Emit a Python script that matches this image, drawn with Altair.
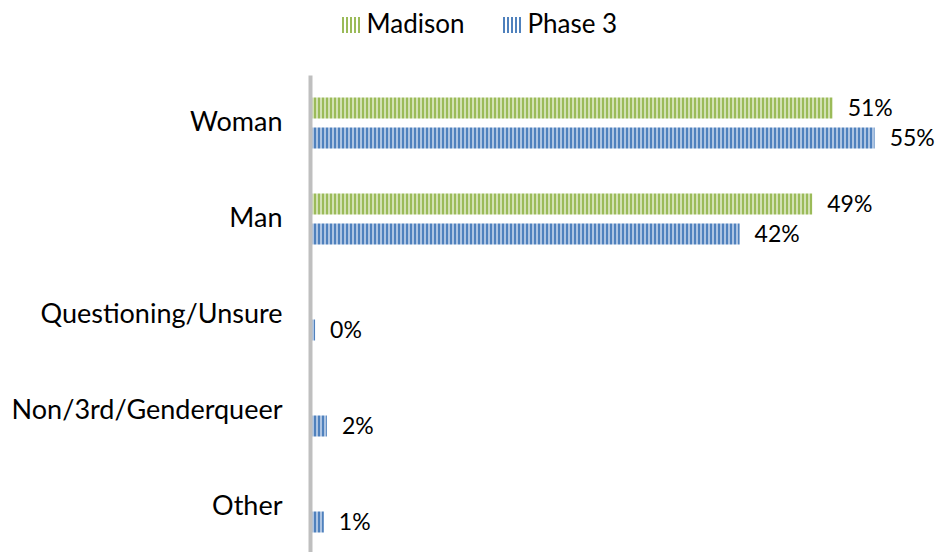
import altair as alt
import pandas as pd

# ---- data ----
categories = ["Woman", "Man", "Questioning/Unsure", "Non/3rd/Genderqueer", "Other"]
series = ["Madison", "Phase 3"]
madison = [51.1, 49.1, None, None, None]
phase3 = [55.2, 42.0, 0.5, 1.65, 1.35]
madison_labels = ["51%", "49%", "", "", ""]
phase3_labels = ["55%", "42%", "0%", "2%", "1%"]

rows = []
for i, c in enumerate(categories):
    for s, vals, labs in (("Madison", madison, madison_labels), ("Phase 3", phase3, phase3_labels)):
        if vals[i] is not None:
            rows.append(dict(idx=len(rows), category=c, series=s, value=vals[i], label=labs[i]))
df = pd.DataFrame(rows)

# ---- styling ----
W, H, XMAX = 626, 477, 61.2
PERIOD, DARK = 4, 2
dark = {"Madison": "#9BBB59", "Phase 3": "#4F81BD"}
light = {"Madison": "#D2E1B3", "Phase 3": "#ADC4E2"}
FONT = "Lato"


def stripes(length_px, d, l):
    stops = []
    x = 0.0
    while x < length_px:
        a = x / length_px
        b = min((x + DARK) / length_px, 1.0)
        c = min((x + PERIOD) / length_px, 1.0)
        stops += [
            alt.GradientStop(offset=a, color=d),
            alt.GradientStop(offset=b, color=d),
            alt.GradientStop(offset=b, color=l),
            alt.GradientStop(offset=c, color=l),
        ]
        x += PERIOD
    return alt.LinearGradient(gradient="linear", stops=stops, x1=0, x2=1, y1=0, y2=0)


x_enc = alt.X("value:Q", scale=alt.Scale(domain=[0, XMAX], nice=False, zero=True), axis=None)
y_enc = alt.Y(
    "category:N",
    sort=categories,
    scale=alt.Scale(range=[0, 480], paddingInner=0, paddingOuter=0),
    axis=alt.Axis(
        title=None,
        labelFont=FONT,
        labelFontSize=27,
        labelColor="#000000",
        labelPadding=28,
        labelLimit=400,
        ticks=False,
        tickSize=0,
        domainColor="#BFBFBF",
        domainWidth=4,
        zindex=1,
    ),
)
yoff_enc = alt.YOffset("series:N", scale=alt.Scale(domain=series, paddingInner=0.3, paddingOuter=0.75))

base = alt.Chart(df)

# legend carrier (invisible bars)
stripe_path = " ".join(
    f"M{-1 + k * 0.4444:.4f},-0.9H{-1 + k * 0.4444 + 0.2222:.4f}V0.9H{-1 + k * 0.4444:.4f}Z" for k in range(5)
)
legend_layer = base.mark_bar(opacity=0).encode(
    x=x_enc,
    y=y_enc,
    yOffset=yoff_enc,
    color=alt.Color(
        "series:N",
        scale=alt.Scale(domain=series, range=[dark[s] for s in series]),
        legend=alt.Legend(
            title=None,
            orient="none",
            legendX=28,
            legendY=-63,
            direction="horizontal",
            labelFont=FONT,
            labelFontSize=26,
            labelColor="#000000",
            labelOffset=2.5,
            columnPadding=34,
            padding=0,
            symbolType=stripe_path,
            symbolSize=324,
            symbolOpacity=1,
            symbolStrokeWidth=0,
        ),
    ),
)

bar_layers = []
for r in rows:
    length_px = r["value"] * W / XMAX
    bar_layers.append(
        base.transform_filter(f"datum.idx == {r['idx']}")
        .mark_bar(color=stripes(length_px, dark[r["series"]], light[r["series"]]))
        .encode(x=x_enc, y=y_enc, yOffset=yoff_enc)
    )

text_layer = base.mark_text(
    align="left", baseline="middle", dx=15, dy=1, font=FONT, fontSize=23, color="#000000"
).encode(x=x_enc, y=y_enc, yOffset=yoff_enc, text="label:N")

chart = (
    alt.layer(legend_layer, *bar_layers, text_layer)
    .properties(
        width=W,
        height=H,
        autosize=alt.AutoSizeParams(type="none"),
        padding={"left": 302, "top": 67, "right": 0, "bottom": 0},
    )
    .configure_view(stroke=None)
)

chart.save("out.html", embed_options={"renderer": "svg", "actions": False})
